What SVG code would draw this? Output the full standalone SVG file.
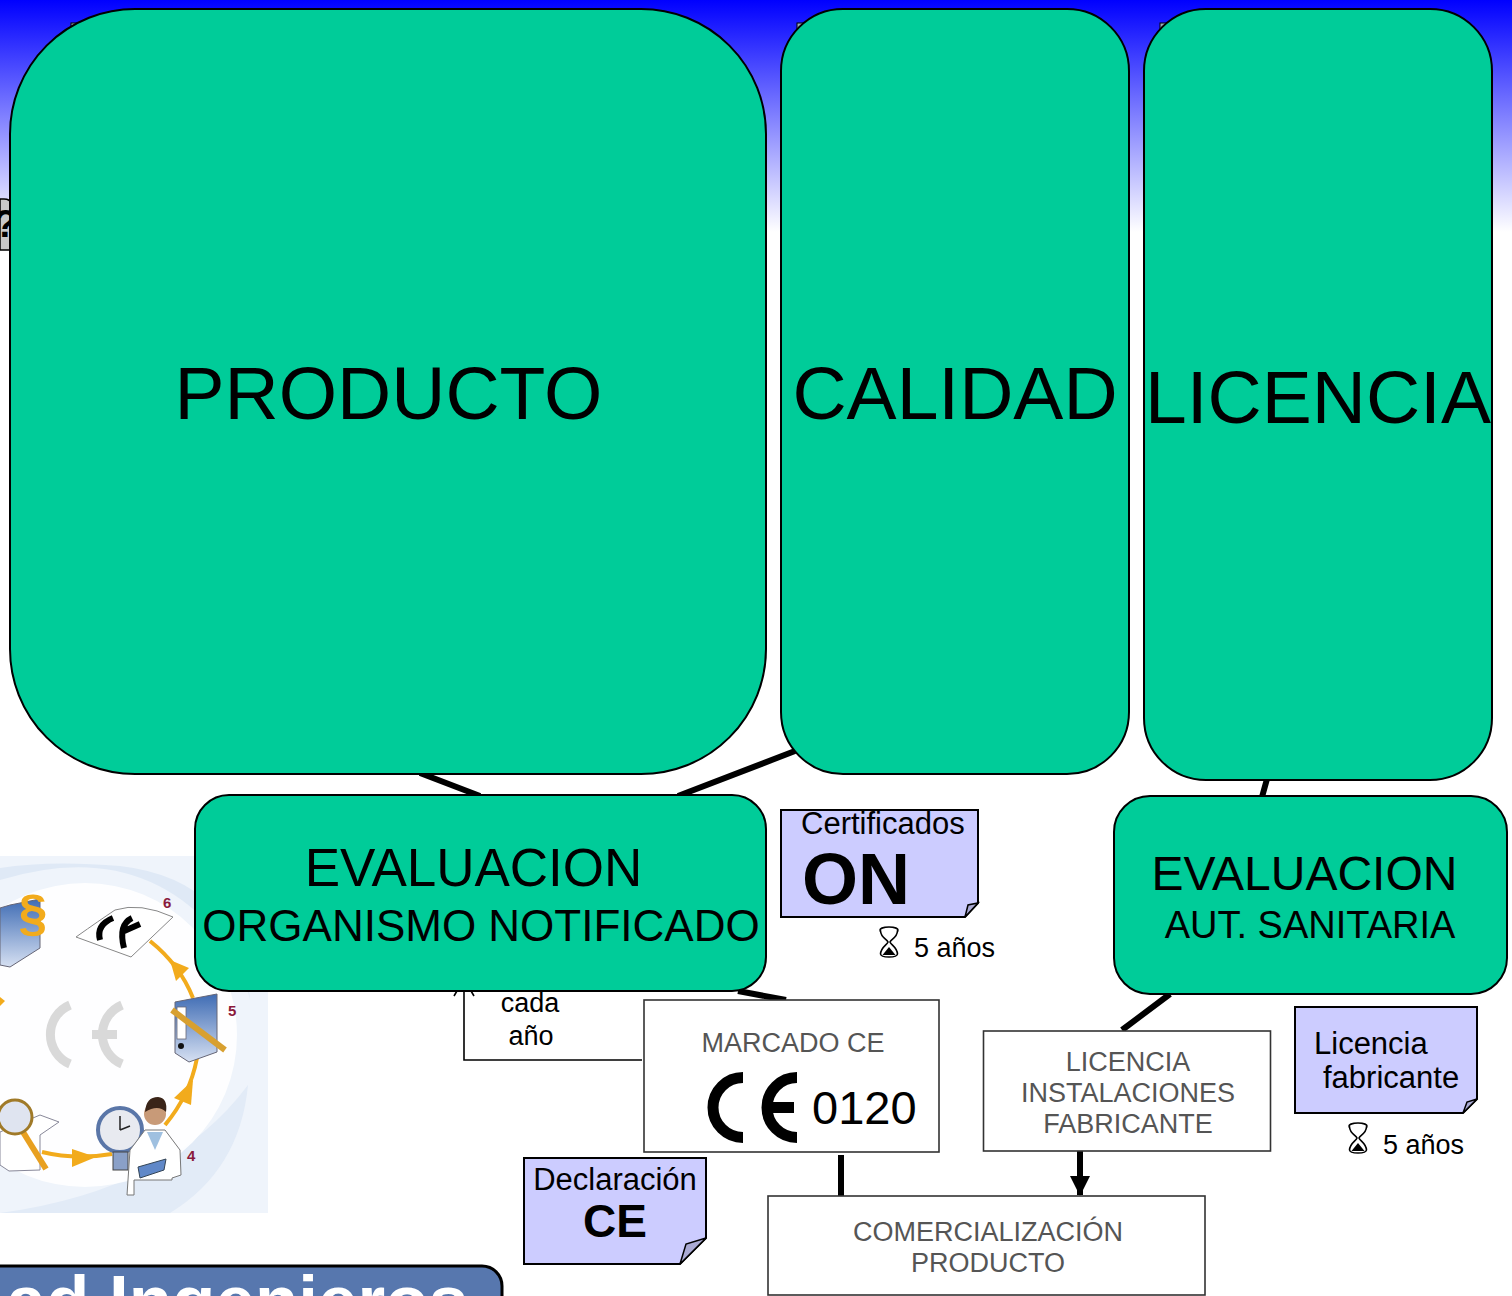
<svg xmlns="http://www.w3.org/2000/svg" width="1512" height="1296" viewBox="0 0 1512 1296">
<style>
text{font-family:"Liberation Sans",Arial,sans-serif;fill:#000}
.m{text-anchor:middle}
.big{fill:#00cc99;stroke:#000;stroke-width:2}
.note{fill:#ccccff;stroke:#000;stroke-width:2}
.fold{fill:#aaaad4;stroke:#000;stroke-width:1.5}
.plain{fill:#fff;stroke:#333;stroke-width:1.6}
.thin{font-family:"Liberation Sans",Arial,sans-serif;fill:#555;text-anchor:middle}
.heavy{fill:none;stroke:#000;stroke-width:6}
.orange{fill:none;stroke:#f2ab1c;stroke-width:4}
.oh{fill:#f2ab1c}
.num{font-weight:700;font-size:15px;fill:#8a1a3c}
</style>
<defs>
<linearGradient id="sky" x1="0" y1="0" x2="0" y2="1"><stop offset="0" stop-color="#0000ff"/><stop offset="1" stop-color="#ffffff"/></linearGradient>
<linearGradient id="bind" x1="0" y1="0" x2="0" y2="1"><stop offset="0" stop-color="#3f6cb4"/><stop offset="1" stop-color="#d6e0f2"/></linearGradient>
<marker id="solid" viewBox="0 0 10 10" refX="9.5" refY="5" markerWidth="3.4" markerHeight="3.4" orient="auto"><path d="M0 0L10 5L0 10Z" fill="#000"/></marker>
<g id="glass">
<ellipse cx="10" cy="4" rx="9" ry="3" fill="#fff" stroke="#000" stroke-width="1.6"/>
<path d="M1.5 5C2 12 8 13 9 16C8 19 2 21 1.5 28C2 32 18 32 18.500 28C18 21 12 19 11 16C12 13 18 12 18.500 5" fill="#fff" stroke="#000" stroke-width="1.600"/>
<path d="M10 21L3.500 29H16.500Z" fill="#000"/>
</g>
</defs>

<rect width="1512" height="1296" fill="#fff"/>
<rect width="1512" height="232" fill="url(#sky)"/>

<!-- slide fragments behind the large panels -->
<path d="M0 199H4Q10 199 12 204V250H0Z" fill="#c8c8c8" stroke="#000" stroke-width="1.500"/>
<text x="-6" y="237" font-size="38" font-weight="700">?</text>
<rect x="71" y="23" width="12" height="8" fill="#9ab" stroke="#000"/>
<rect x="797" y="23" width="12" height="8" fill="#9ab" stroke="#000"/>
<rect x="1160" y="23" width="12" height="8" fill="#9ab" stroke="#000"/>

<!-- CE procedure illustration -->
<g id="illustration">
<rect x="0" y="856" width="268" height="357" fill="#eff4fb"/>
<path d="M0 880Q130 840 210 925Q240 950 250 1000Q240 880 120 866Q50 860 0 868Z" fill="#dfe9f6"/>
<path d="M0 1213Q170 1190 248 1085Q240 1170 170 1213Z" fill="#e2ebf7"/>
<circle cx="85" cy="1035" r="152" fill="#fff" opacity=".9"/>
<path d="M70 1005A32 32 0 0 0 70 1064M122 1005A32 32 0 0 0 122 1064M92 1034.500H117" fill="none" stroke="#d9d9d9" stroke-width="9"/>
<path d="M150 941Q180 965 193 998M197 1058Q190 1095 165 1125M42 1152Q75 1160 112 1154" class="orange"/>
<path d="M170 960L189 968L176 981Z" class="oh"/>
<path d="M193 1080L191 1105L174 1098Z" class="oh"/>
<path d="M72 1149L96 1157L72 1167Z" class="oh"/>
<path d="M0 997L5 1001L0 1006Z" class="oh"/>
<path d="M0 908L10 905L40 899V948L10 967L0 965Z" fill="url(#bind)" stroke="#667" stroke-width="1"/>
<text x="33" y="931" font-size="52" font-weight="700" class="m" style="fill:#f2ab1c">§</text>
<path d="M76 937Q100 920 115 910Q140 902 173 917L131 957Z" fill="#fff" stroke="#888" stroke-width="1"/>
<path d="M113 918Q96 925 100 940M132 918Q118 925 124 948M122 932L140 924" fill="none" stroke="#000" stroke-width="6"/>
<text x="163" y="908" class="num">6</text>
<path d="M175 1002L217 994V1052L189 1062L175 1053Z" fill="url(#bind)" stroke="#667" stroke-width="1"/>
<rect x="177" y="1007" width="9" height="32" fill="#fff" stroke="#667" stroke-width=".8"/>
<circle cx="181" cy="1046" r="3" fill="#111"/>
<path d="M172 1010L225 1050" stroke="#d8a030" stroke-width="6"/>
<text x="228" y="1016" class="num">5</text>
<circle cx="120" cy="1130" r="22" fill="#e8eaf0" stroke="#5a76a8" stroke-width="4"/>
<path d="M120 1130V1116M120 1130L130 1126" stroke="#222" stroke-width="1.500"/>
<rect x="113" y="1152" width="15" height="18" fill="#8aa0c8" stroke="#444"/>
<path d="M127 1195L130 1150L145 1130H165L180 1150L181 1175L172 1178V1180H134V1195Z" fill="#fff" stroke="#777" stroke-width="1"/>
<path d="M147 1132L155 1150L163 1132Z" fill="#9fc0e0"/>
<circle cx="155" cy="1114" r="11" fill="#c89a78"/>
<path d="M145 1112Q146 1097 158 1097Q168 1098 166 1112Q158 1104 145 1112Z" fill="#3a2418"/>
<path d="M138 1167L166 1159L164 1170L140 1178Z" fill="#6088c8" stroke="#345"/>
<text x="187" y="1161" class="num">4</text>
<path d="M0 1132L40 1115L59 1122L40 1135V1170L9 1171L0 1165Z" fill="#fff" stroke="#889" stroke-width="1"/>
<path d="M23 1132L46 1169" stroke="#e8a020" stroke-width="6"/>
<circle cx="15" cy="1117" r="17" fill="#dfe4f0" stroke="#a07a28" stroke-width="3"/>
</g>

<!-- banner cut off at the lower edge -->
<g id="banner">
<rect x="-20" y="1266" width="522" height="60" rx="20" fill="#5777ae" stroke="#000" stroke-width="3"/>
<text x="468" y="1325" font-size="71" font-weight="700" text-anchor="end" style="fill:#fff">ad Ingenieros</text>
</g>

<!-- connectors -->
<g id="connectors">
<path d="M420 773L480 796M795 751L678 796M1267 779L1262 797" class="heavy"/>
<path d="M738 991L786 1000M1170 994L1122 1030M841 1155V1197M1080 1151V1195" class="heavy" marker-end="url(#solid)"/>
<path d="M642 1060H464V979M454 996L464 979L474 996" fill="none" stroke="#000" stroke-width="1.600"/>
</g>

<g id="producto"><rect class="big" x="10" y="9" width="756" height="765" rx="125"/><text class="m" x="388.500" y="419" font-size="75">PRODUCTO</text></g>
<g id="calidad"><rect class="big" x="781" y="9" width="348" height="765" rx="62"/><text class="m" x="955" y="419" font-size="75">CALIDAD</text></g>
<g id="licencia"><rect class="big" x="1144" y="9" width="348" height="771" rx="62"/><text class="m" x="1318" y="423" font-size="75">LICENCIA</text></g>

<g id="evaluacion-on"><rect class="big" x="195" y="795" width="571" height="196" rx="34"/>
<text class="m" x="473.500" y="886" font-size="53">EVALUACION</text>
<text class="m" x="481" y="941" font-size="44">ORGANISMO NOTIFICADO</text></g>
<g id="evaluacion-as"><rect class="big" x="1114" y="796" width="393" height="198" rx="36"/>
<text class="m" x="1304.500" y="890" font-size="48">EVALUACION</text>
<text class="m" x="1310" y="938" font-size="38">AUT. SANITARIA</text></g>

<g id="cert-on"><path class="note" d="M781 810H978V903L965 917H781Z"/><path class="fold" d="M965 917L968 905L978 903Z"/>
<text x="801" y="834" font-size="31">Certificados</text>
<text x="802" y="904" font-size="72" font-weight="700">ON</text></g>
<g id="plazo-on"><use href="#glass" x="879" y="926"/><text x="914" y="957" font-size="27">5 años</text></g>

<g id="marcado"><rect class="plain" x="644" y="1000" width="295" height="152"/>
<text class="thin" x="793" y="1052" font-size="27">MARCADO CE</text>
<path d="M743 1077.500A30 30 0 0 0 743 1137.500M797 1077.500A30 30 0 0 0 797 1137.500M765 1107.500H794" fill="none" stroke="#000" stroke-width="11"/>
<text x="812" y="1124" font-size="47">0120</text></g>

<g id="cada-ano"><text class="m" x="530" y="1012" font-size="27">cada</text><text class="m" x="531" y="1045" font-size="27">año</text></g>

<g id="declaracion"><path class="note" d="M524 1158H706V1238L680 1264H524Z"/><path class="fold" d="M680 1264L686 1244L706 1238Z"/>
<text class="m" x="615" y="1190" font-size="31">Declaración</text>
<text class="m" x="615" y="1237" font-size="46" font-weight="700">CE</text></g>

<g id="instalaciones"><rect class="plain" x="983.500" y="1031" width="287" height="120"/>
<text class="thin" x="1128" y="1071" font-size="27">LICENCIA</text>
<text class="thin" x="1128" y="1102" font-size="27">INSTALACIONES</text>
<text class="thin" x="1128" y="1133" font-size="27">FABRICANTE</text></g>

<g id="licencia-fabricante"><path class="note" d="M1295 1007H1477V1099L1463 1113H1295Z"/><path class="fold" d="M1463 1113L1467 1102L1477 1099Z"/>
<text x="1314" y="1054" font-size="31">Licencia</text>
<text x="1323" y="1088" font-size="31">fabricante</text></g>
<g id="plazo-fabricante"><use href="#glass" x="1348" y="1122"/><text x="1383" y="1154" font-size="27">5 años</text></g>

<g id="comercializacion"><rect class="plain" x="768" y="1196" width="437" height="99"/>
<text class="thin" x="988" y="1241" font-size="27">COMERCIALIZACIÓN</text>
<text class="thin" x="988" y="1272" font-size="27">PRODUCTO</text></g>
</svg>
